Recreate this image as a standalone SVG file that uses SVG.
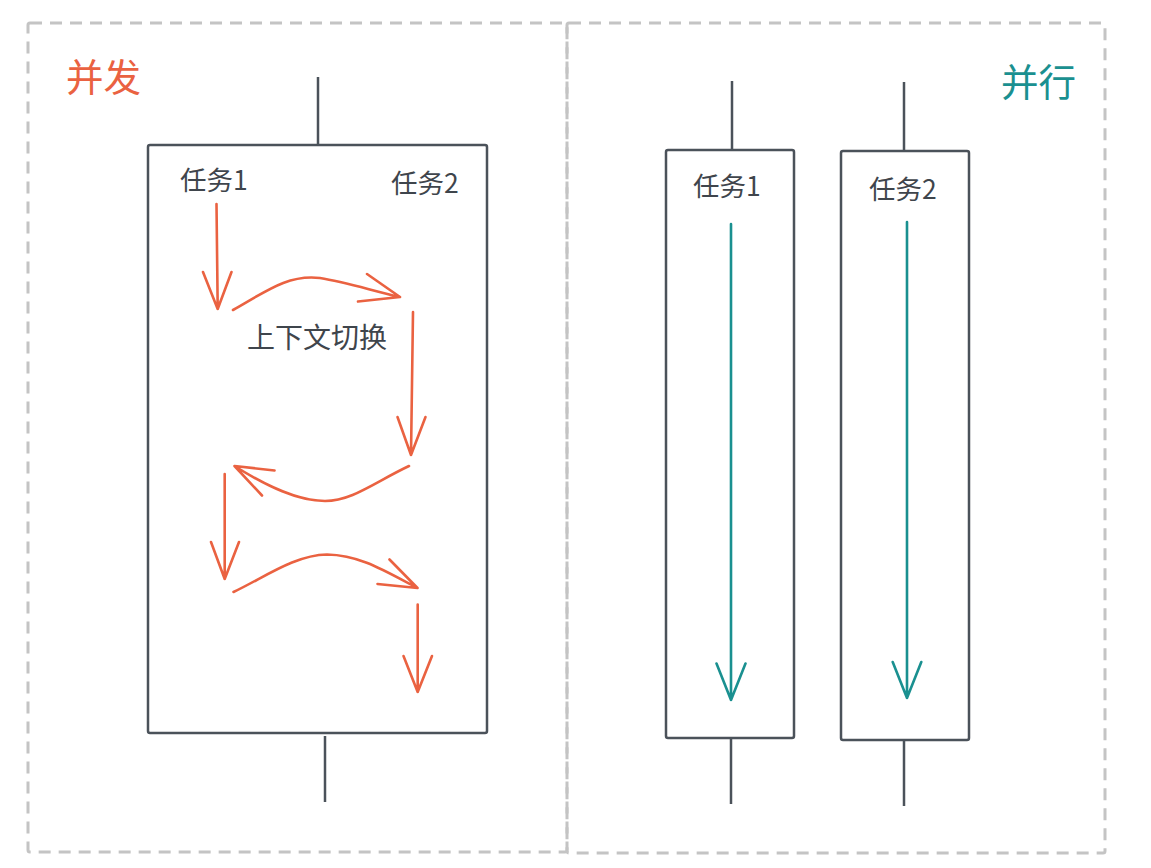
<svg xmlns="http://www.w3.org/2000/svg" width="1151" height="868" viewBox="0 0 1151 868">
<style>
.frame{fill:none;stroke:#c4c4c4;stroke-width:3;stroke-dasharray:12 8}
.box{fill:#fff;stroke:#4b525a;stroke-width:2.5}
.stub{stroke:#4b525a;stroke-width:2.5;fill:none}
.or{stroke:#ea6241;stroke-width:2.6;fill:none;stroke-linecap:round;stroke-linejoin:round}
.tl{stroke:#1a9090;stroke-width:2.6;fill:none;stroke-linecap:round;stroke-linejoin:round}
.lbl{font-family:"Noto Sans CJK SC","Noto Sans",sans-serif;font-size:26.5px;fill:#3f454c}
.big{font-size:28px}
.title{font-family:"Noto Sans CJK SC",sans-serif;font-size:37.5px}
</style>
<rect width="1151" height="868" fill="#fff"/>
<g id="frame-concurrent">
<rect class="frame" x="28" y="23" width="539" height="829" rx="2"/>
<text class="title" x="66" y="91" fill="#ea6241">并发</text>
</g>
<g id="frame-parallel">
<rect class="frame" x="567" y="23" width="538" height="830" rx="2"/>
<text class="title" x="1001" y="96" fill="#1a9090">并行</text>
</g>
<g id="node-concurrent">
<rect class="box" x="148" y="145" width="339" height="588" rx="2"/>
<text class="lbl" x="180" y="190">任务1</text>
<text class="lbl" x="391" y="193">任务2</text>
<text class="lbl big" x="247" y="348">上下文切换</text>
</g>
<g id="node-parallel-1">
<rect class="box" x="666" y="150" width="128" height="588" rx="2"/>
<text class="lbl" x="693" y="196">任务1</text>
</g>
<g id="node-parallel-2">
<rect class="box" x="841" y="151" width="128" height="589" rx="2"/>
<text class="lbl" x="869" y="199">任务2</text>
</g>
<g id="connectors">
<line class="stub" x1="318" y1="77" x2="318" y2="145"/>
<line class="stub" x1="325" y1="736" x2="325" y2="802"/>
<line class="stub" x1="732" y1="81" x2="732" y2="150"/>
<line class="stub" x1="731" y1="738" x2="731" y2="804"/>
<line class="stub" x1="904" y1="82" x2="904" y2="151"/>
<line class="stub" x1="904" y1="740" x2="904" y2="806"/>
<path class="or" d="M216.5 204 L217.7 309 M203 272 L217.7 309 L231.5 272"/>
<path class="or" d="M233 310 C265 292 288 274 320 278 C345 282 370 290 400 297 M367 274 L400 297 L358 301.5"/>
<path class="or" d="M413 312 L411 455 M397.5 417 L411 455 L425.5 417"/>
<path class="or" d="M409 466 C375 482 352 501 325 501 C298 501 268 487 234.5 466 M274.5 470.5 L234.5 466 L262 495.5"/>
<path class="or" d="M224.7 474 L224.7 579 M211 542 L224.7 579 L239 542"/>
<path class="or" d="M233.5 592 C265 577 295 555 327 554.5 C360 555 385 571 417.5 588 M389.5 559.5 L417.5 588 L377.5 584"/>
<path class="or" d="M417.7 604.5 L417.7 692 M403.5 656 L417.7 692 L432 656"/>
<path class="tl" d="M731 224 L731 700 M716.5 663.5 L731 700 L745.5 663.5"/>
<path class="tl" d="M907 222 L907 698 M892.7 662 L907 698 L921.3 662"/>
</g>
</svg>
